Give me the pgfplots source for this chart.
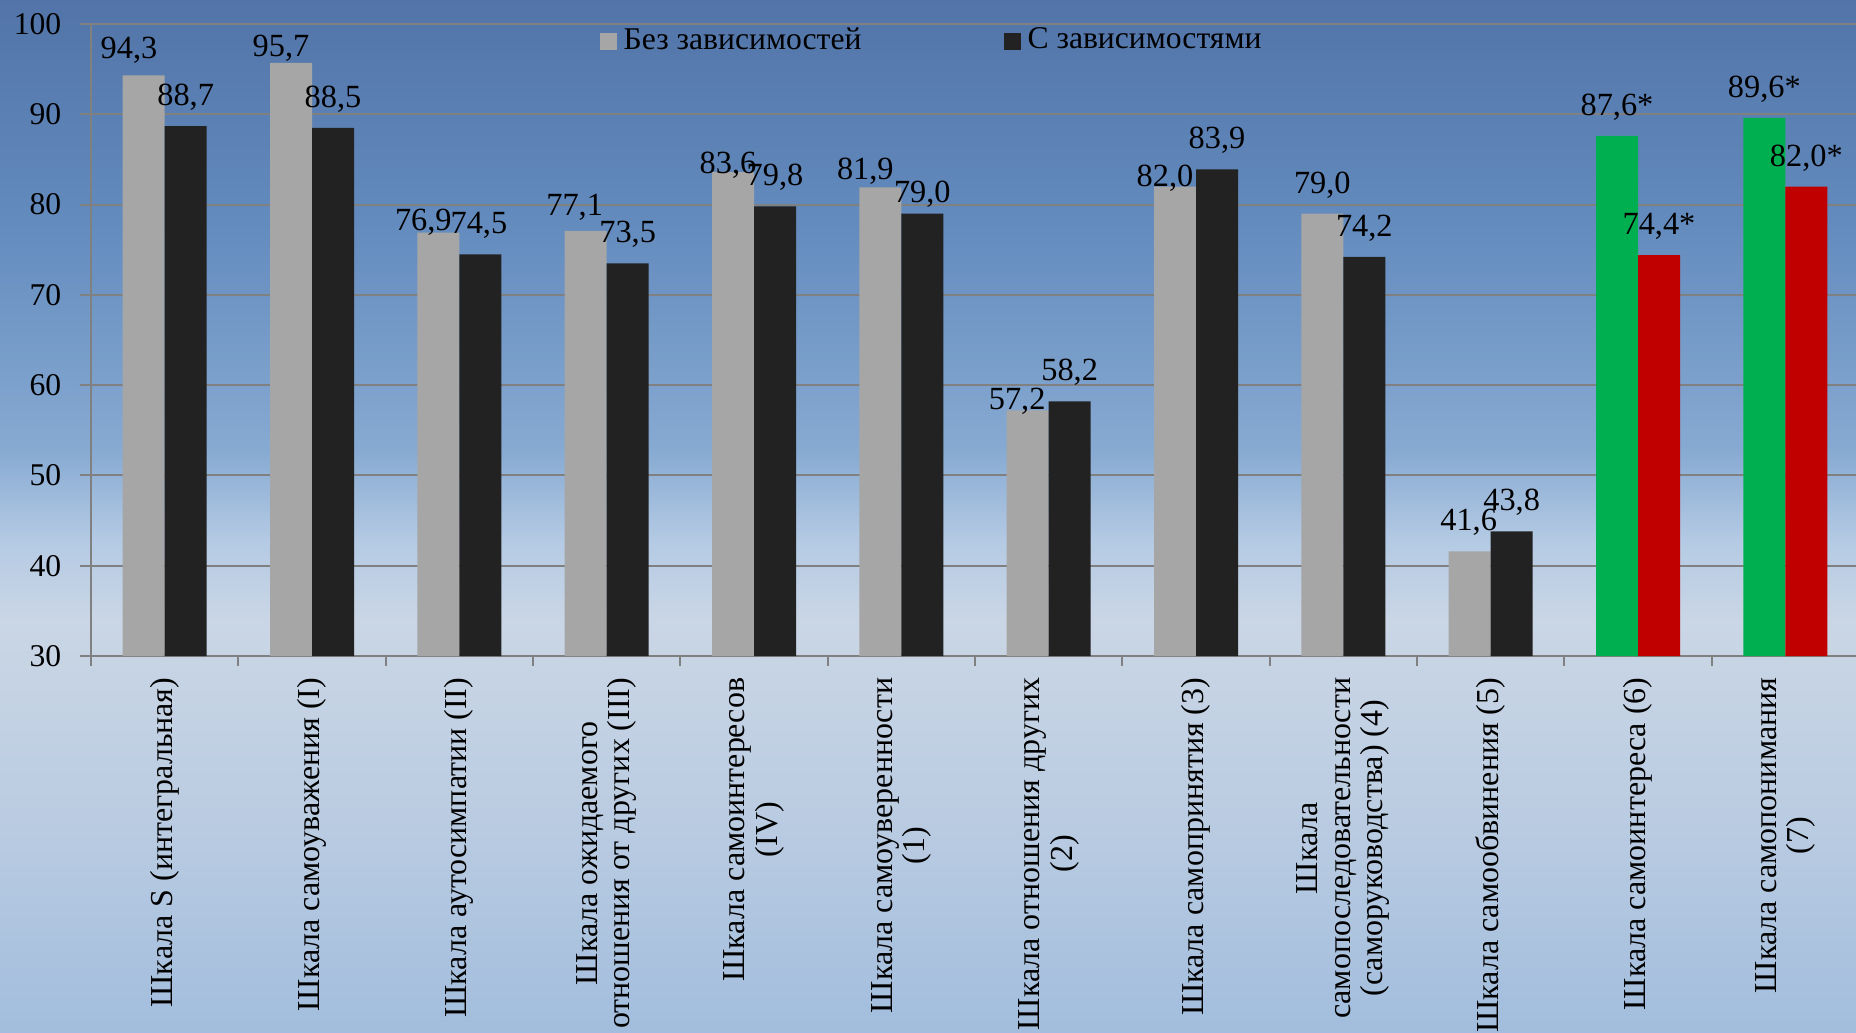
\documentclass[border=0pt]{standalone}
\usepackage{pgfplots}
\pgfplotsset{compat=1.18}
\usepackage{pgfplotstable}
\usepackage{fontspec}
\setmainfont{Liberation Serif}

\definecolor{barA}{RGB}{166,166,166}
\definecolor{barB}{RGB}{34,34,34}
\definecolor{barG}{RGB}{0,176,80}
\definecolor{barR}{RGB}{192,0,0}
\definecolor{gridc}{RGB}{128,128,128}
\definecolor{sky0}{RGB}{82,116,168}
\definecolor{sky1}{RGB}{100,140,190}
\definecolor{sky2}{RGB}{135,170,210}
\definecolor{sky3}{RGB}{180,202,228}
\definecolor{sky4}{RGB}{202,214,229}
\definecolor{sky5}{RGB}{188,205,226}
\definecolor{sky6}{RGB}{162,189,221}

% x y label, label shift dx dy in mm
\pgfplotstableread{
x y lab dx dy
0 94.3 94,3 -1.47 -0.38
1 95.7 95,7 -1.00 -1.45
2 76.9 76,9 -1.50 -1.85
3 77.1 77,1 -1.10 -0.50
4 83.6 83,6 -0.50 -2.20
5 81.9 81,9 -1.50 -1.30
6 57.2 57,2 -1.05 -1.95
7 82.0 82,0 -1.00 -2.00
8 79.0 79,0 0 0
9 41.6 41,6 -0.10 0
}\grayT
\pgfplotstableread{
x y lab dx dy
0 88.7 88,7 0 0
1 88.5 88,5 0 0
2 74.5 74,5 -0.14 0
3 73.5 73,5 0 0
4 79.8 79,8 0 0
5 79.0 79,0 0 -0.90
6 58.2 58,2 0 0
7 83.9 83,9 0 0
8 74.2 74,2 0 0
9 43.8 43,8 0 0
}\darkT
\pgfplotstableread{
x y lab dx dy
10 87.6 87,6* 0 0
11 89.6 89,6* 0 0
}\greenT
\pgfplotstableread{
x y lab dx dy
10 74.4 74,4* 0 0
11 82.0 82,0* 0 0
}\redT

\pgfplotsset{
  lbl/.style={
    visualization depends on={\thisrow{dx}\as\dx},
    visualization depends on={\thisrow{dy}\as\dy},
  },
}

\begin{document}
\begin{tikzpicture}
\path[use as bounding box] (0,0) rectangle (18.56,10.32);
% sky background
\shade[top color=sky0, bottom color=sky1] (0,10.33) rectangle (18.56,8.01);
\shade[top color=sky1, bottom color=sky2] (0,8.02) rectangle (18.56,5.81);
\shade[top color=sky2, bottom color=sky3] (0,5.82) rectangle (18.56,4.91);
\shade[top color=sky3, bottom color=sky4] (0,4.92) rectangle (18.56,4.11);
\shade[top color=sky4, bottom color=sky5] (0,4.12) rectangle (18.56,2.31);
\shade[top color=sky5, bottom color=sky6] (0,2.32) rectangle (18.56,-0.01);

\begin{axis}[
  at={(0.91cm,3.76cm)}, anchor=south west,
  scale only axis, width=17.68cm, height=6.32cm,
  xmin=-0.5, xmax=11.5, ymin=30, ymax=100,
  ybar, bar width=4.2mm,
  axis lines*=left,
  axis line style={gridc, line width=0.2mm},
  ymajorgrids, grid style={gridc, line width=0.2mm},
  ytick={30,40,...,100},
  tick align=outside,
  major tick length=1.1mm,
  minor tick length=1mm,
  tick style={gridc, line width=0.2mm},
  xtick={0,...,11},
  major x tick style={draw=none},
  minor xtick={-0.5,0.5,...,11.5},
  /pgf/number format/assume math mode=true,
  yticklabel style={font=\fontsize{9}{11}\selectfont, inner sep=0pt},
  yticklabel shift=1.8mm,
  xticklabel style={font=\fontsize{9.1}{9.25}\selectfont, rotate=90, anchor=east, align=center, inner sep=0pt},
  xticklabel shift=1mm,
  xticklabels={
    {Шкала S (интегральная)},
    {Шкала самоуважения (I)},
    {Шкала аутосимпатии (II)},
    {Шкала ожидаемого\\отношения от других (III)},
    {Шкала самоинтересов\\(IV)},
    {Шкала самоуверенности\\(1)},
    {Шкала отношения других\\(2)},
    {Шкала самопринятия (3)},
    {Шкала\\самопоследовательности\\(саморуководства) (4)},
    {Шкала самообвинения (5)},
    {Шкала самоинтереса (6)},
    {Шкала самопонимания\\(7)}},
  nodes near coords,
  point meta=explicit symbolic,
  nodes near coords style={font=\fontsize{9.2}{11}\selectfont, inner sep=0pt, anchor=base,
    xshift=\dx mm, yshift={(2.05+\dy)*1mm}},
  legend columns=2,
  legend style={draw=none, fill=none, at={(rel axis cs:0.2873,0.973)}, anchor=west,
    inner sep=0pt, font=\fontsize{9}{11}\selectfont,
    /tikz/every even column/.append style={column sep=1.35cm}},
  legend image code/.code={\fill[#1] (0cm,-0.85mm) rectangle (1.7mm,0.85mm);},
]
\addplot[fill=barA, draw=none, bar shift=-2.1mm, lbl] table[x=x, y=y, meta=lab] {\grayT};
\addplot[fill=barB, draw=none, bar shift=2.1mm, lbl] table[x=x, y=y, meta=lab] {\darkT};
\addplot[fill=barG, draw=none, bar shift=-2.1mm, lbl] table[x=x, y=y, meta=lab] {\greenT};
\addplot[fill=barR, draw=none, bar shift=2.1mm, lbl] table[x=x, y=y, meta=lab] {\redT};
\legend{Без зависимостей, С зависимостями}
\end{axis}
\end{tikzpicture}
\end{document}
